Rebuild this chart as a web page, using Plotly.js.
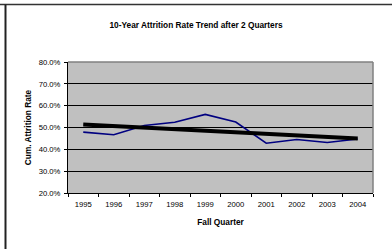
<!DOCTYPE html>
<html>
<head>
<meta charset="utf-8">
<script src="https://cdn.plot.ly/plotly-3.0.1.min.js"></script>
<style>
html,body{margin:0;padding:0;background:#fff;overflow:hidden;width:392px;height:249px;}
#chart{width:392px;height:249px;overflow:hidden;}
</style>
</head>
<body>
<div id="chart"></div>
<script>
// Data
const years = ['1995','1996','1997','1998','1999','2000','2001','2002','2003','2004'];
const attritionRate = [47.9, 46.7, 50.9, 52.4, 56.0, 52.5, 42.8, 44.5, 43.1, 44.7];
const yTickValues = [20, 30, 40, 50, 60, 70, 80];

// Linear trend (least squares) over the series
const n = attritionRate.length;
const xs = attritionRate.map((_, i) => i);
const mx = xs.reduce((a, b) => a + b, 0) / n;
const my = attritionRate.reduce((a, b) => a + b, 0) / n;
let sxy = 0, sxx = 0;
xs.forEach((x, i) => { sxy += (x - mx) * (attritionRate[i] - my); sxx += (x - mx) * (x - mx); });
const slope = sxy / sxx;
const trend = xs.map(x => my + slope * (x - mx));

const W = 392, H = 249, L = 68, R = 19, T = 62, B = 56;
const pw = W - L - R, ph = H - T - B;
const px = v => (v - L) / pw;
const py = v => (H - B - v) / ph;

const font = 'Liberation Sans, Arial, sans-serif';

const traces = [
  {x: years, y: attritionRate, type: 'scatter', mode: 'lines',
   line: {color: '#000080', width: 1.6}, hoverinfo: 'none', showlegend: false},
  {x: years, y: trend, type: 'scatter', mode: 'lines',
   line: {color: '#000000', width: 4}, hoverinfo: 'none', showlegend: false}
];

const layout = {
  width: W, height: H,
  margin: {l: L, r: R, t: T, b: B, pad: 0},
  paper_bgcolor: '#ffffff',
  plot_bgcolor: '#c0c0c0',
  showlegend: false,
  title: {
    text: '10-Year Attrition Rate Trend after 2 Quarters',
    font: {family: font, size: 8.3, weight: 'bold', color: '#000'},
    x: 0.5, xref: 'container', xanchor: 'center',
    y: 1 - 25 / H, yref: 'container', yanchor: 'middle'
  },
  xaxis: {
    type: 'category',
    range: [-0.5, years.length - 0.5],
    tickson: 'boundaries',
    ticks: 'outside', ticklen: 3, tickcolor: '#000', tickwidth: 1,
    ticklabelstandoff: 4,
    showline: true, linecolor: '#000', linewidth: 1,
    showgrid: false, zeroline: false,
    tickfont: {family: font, size: 7.7, color: '#000'},
    title: {text: 'Fall Quarter', font: {family: font, size: 8.3, weight: 'bold', color: '#000'}, standoff: 10}
  },
  yaxis: {
    range: [20, 80],
    tickvals: yTickValues,
    ticktext: yTickValues.map(v => v.toFixed(1) + '%'),
    ticks: 'outside', ticklen: 3, tickcolor: '#000', tickwidth: 1,
    ticklabelstandoff: 2,
    showline: true, linecolor: '#000', linewidth: 1,
    showgrid: true, gridcolor: '#000', gridwidth: 1,
    zeroline: false,
    tickfont: {family: font, size: 7.7, color: '#000'},
    title: {text: 'Cum. Attrition Rate', font: {family: font, size: 8.3, weight: 'bold', color: '#000'}, standoff: 5}
  },
  shapes: [
    // plot area border (top/right, grey)
    {type: 'line', xref: 'paper', yref: 'paper', x0: 0, x1: 1, y0: 1, y1: 1,
     line: {color: '#808080', width: 1.5}, layer: 'above'},
    {type: 'line', xref: 'paper', yref: 'paper', x0: 1, x1: 1, y0: 0, y1: 1,
     line: {color: '#808080', width: 1.5}, layer: 'above'},
    // outer frame (top and left)
    {type: 'line', xref: 'paper', yref: 'paper', x0: px(0), x1: px(W), y0: py(4.5), y1: py(4.5),
     line: {color: '#333333', width: 1.5}, layer: 'above'},
    {type: 'line', xref: 'paper', yref: 'paper', x0: px(5.5), x1: px(5.5), y0: py(4.5), y1: py(H),
     line: {color: '#222222', width: 2}, layer: 'above'}
  ]
};

Plotly.newPlot('chart', traces, layout, {staticPlot: true, displayModeBar: false});
</script>
</body>
</html>
